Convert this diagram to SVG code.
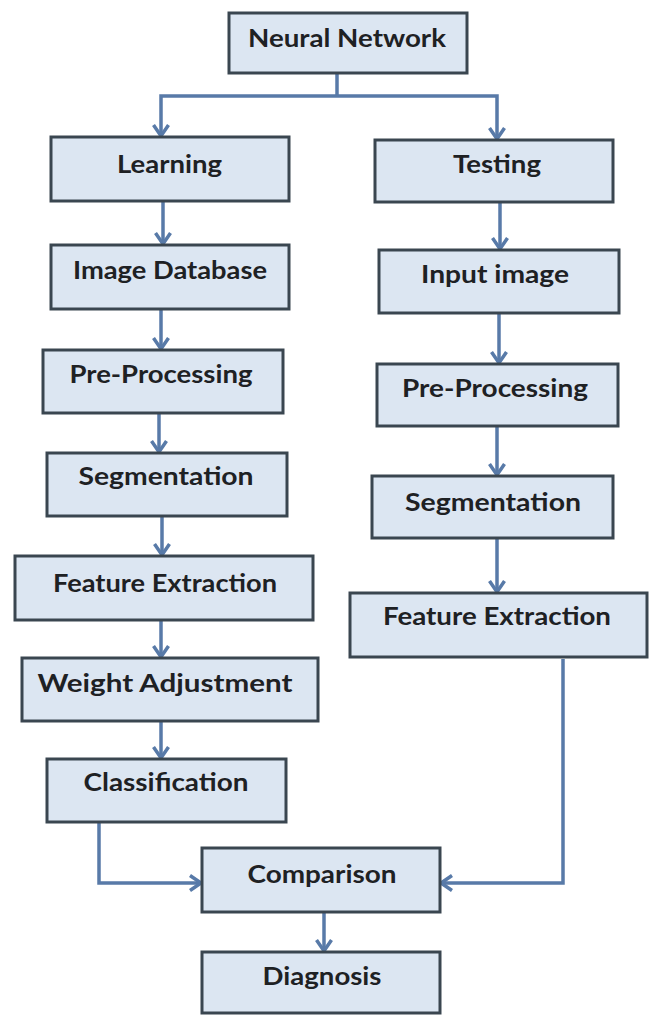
<svg xmlns="http://www.w3.org/2000/svg" width="649" height="1015" viewBox="0 0 649 1015">
<style>
.box{fill:#dce6f2;stroke:#3a4650;stroke-width:3}
.lbl{font-family:Lato,"Liberation Sans",sans-serif;font-weight:bold;font-size:25px;fill:#1e2124;text-anchor:middle}
.con{fill:none;stroke:#587aa8;stroke-width:3.5;marker-end:url(#arr)}
.con2{fill:none;stroke:#587aa8;stroke-width:3.5}
</style>
<defs>
<marker id="arr" markerUnits="userSpaceOnUse" markerWidth="18" markerHeight="18" refX="14" refY="9" orient="auto" viewBox="0 0 18 18">
<path d="M3,1.5 L14,9 L3,16.5" fill="none" stroke="#587aa8" stroke-width="3.5"/>
</marker>
</defs>
<rect width="649" height="1015" fill="#ffffff"/>
<g id="connectors">
<path class="con2" d="M337,73 V96"/>
<path class="con" d="M337,96 H161 V136"/>
<path class="con" d="M337,96 H497 V139"/>
<path class="con" d="M163,201 V244"/>
<path class="con" d="M161,309 V349"/>
<path class="con" d="M159,413 V452"/>
<path class="con" d="M162,516 V555"/>
<path class="con" d="M161,620 V657"/>
<path class="con" d="M161,721 V758"/>
<path class="con" d="M500,202 V249"/>
<path class="con" d="M499,313 V363"/>
<path class="con" d="M497,426 V475"/>
<path class="con" d="M497,538 V592"/>
<path class="con" d="M99,822 V883 H201"/>
<path class="con" d="M563,659 V883 H441"/>
<path class="con" d="M324,912 V951"/>
</g>
<g id="n-neural"><rect class="box" x="229" y="13" width="238" height="60"/><text class="lbl" x="347" y="47" textLength="198" lengthAdjust="spacingAndGlyphs">Neural Network</text></g>
<g id="n-learning"><rect class="box" x="51" y="137" width="238" height="64"/><text class="lbl" x="169.5" y="173" textLength="105" lengthAdjust="spacingAndGlyphs">Learning</text></g>
<g id="n-testing"><rect class="box" x="375" y="140" width="238" height="62"/><text class="lbl" x="497" y="173" textLength="88" lengthAdjust="spacingAndGlyphs">Testing</text></g>
<g id="n-imagedb"><rect class="box" x="51" y="245" width="238" height="64"/><text class="lbl" x="170" y="279" textLength="194" lengthAdjust="spacingAndGlyphs">Image Database</text></g>
<g id="n-input"><rect class="box" x="379" y="250" width="240" height="63"/><text class="lbl" x="495" y="283" textLength="148" lengthAdjust="spacingAndGlyphs">Input image</text></g>
<g id="n-prep-l"><rect class="box" x="43" y="350" width="240" height="63"/><text class="lbl" x="161" y="383" textLength="183" lengthAdjust="spacingAndGlyphs">Pre-Processing</text></g>
<g id="n-prep-r"><rect class="box" x="377" y="364" width="241" height="62"/><text class="lbl" x="495" y="397" textLength="186" lengthAdjust="spacingAndGlyphs">Pre-Processing</text></g>
<g id="n-seg-l"><rect class="box" x="47" y="453" width="240" height="63"/><text class="lbl" x="166" y="485" textLength="175" lengthAdjust="spacingAndGlyphs">Segmentation</text></g>
<g id="n-seg-r"><rect class="box" x="372" y="476" width="241" height="62"/><text class="lbl" x="493" y="511" textLength="176" lengthAdjust="spacingAndGlyphs">Segmentation</text></g>
<g id="n-fe-l"><rect class="box" x="15" y="556" width="298" height="64"/><text class="lbl" x="165" y="592" textLength="224" lengthAdjust="spacingAndGlyphs">Feature Extraction</text></g>
<g id="n-fe-r"><rect class="box" x="350" y="593" width="297" height="64"/><text class="lbl" x="497" y="625" textLength="228" lengthAdjust="spacingAndGlyphs">Feature Extraction</text></g>
<g id="n-weight"><rect class="box" x="22" y="658" width="296" height="63"/><text class="lbl" x="165" y="692" textLength="255" lengthAdjust="spacingAndGlyphs">Weight Adjustment</text></g>
<g id="n-class"><rect class="box" x="47" y="759" width="239" height="63"/><text class="lbl" x="166" y="791" textLength="165" lengthAdjust="spacingAndGlyphs">Classification</text></g>
<g id="n-comp"><rect class="box" x="202" y="848" width="238" height="64"/><text class="lbl" x="322" y="883" textLength="149" lengthAdjust="spacingAndGlyphs">Comparison</text></g>
<g id="n-diag"><rect class="box" x="202" y="952" width="238" height="61"/><text class="lbl" x="322" y="985" textLength="119" lengthAdjust="spacingAndGlyphs">Diagnosis</text></g>
</svg>
